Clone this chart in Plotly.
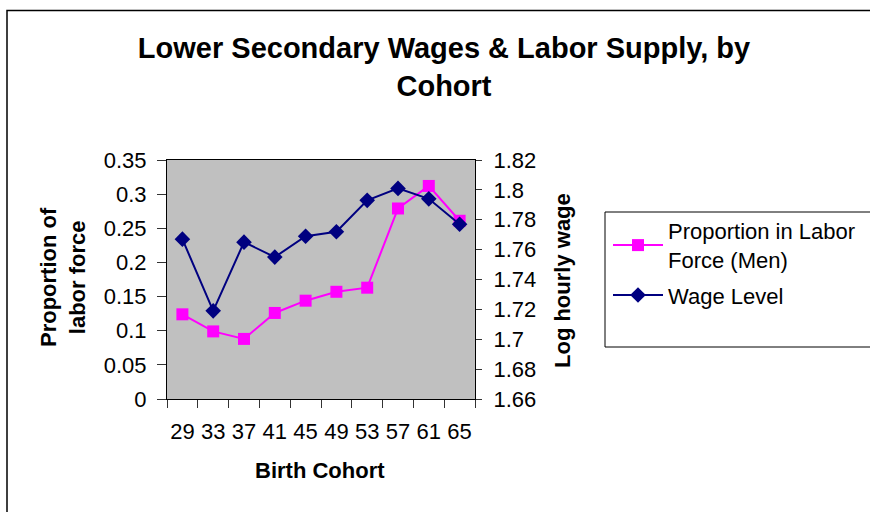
import plotly.graph_objects as go

# ---- data ----
cohorts = ["29", "33", "37", "41", "45", "49", "53", "57", "61", "65"]
labor_share = [0.124, 0.099, 0.088, 0.126, 0.144, 0.157, 0.163, 0.279, 0.312, 0.261]
wage_level = [1.767, 1.719, 1.765, 1.755, 1.769, 1.772, 1.793, 1.801, 1.794, 1.777]

left_ticks = [0, 0.05, 0.1, 0.15, 0.2, 0.25, 0.3, 0.35]
left_labels = ["0", "0.05", "0.1", "0.15", "0.2", "0.25", "0.3", "0.35"]
right_ticks = [1.66, 1.68, 1.70, 1.72, 1.74, 1.76, 1.78, 1.80, 1.82]
right_labels = ["1.66", "1.68", "1.7", "1.72", "1.74", "1.76", "1.78", "1.8", "1.82"]

FONT = "Liberation Sans, Arial, sans-serif"
W, H = 870, 512
L, R, T, B = 167, 395, 160, 113
pw, ph = W - L - R, H - T - B


def px(x):
    return (x - L) / pw


def py(y):
    return (H - B - y) / ph


fig = go.Figure()
fig.add_trace(go.Scatter(
    x=cohorts, y=labor_share, name="Proportion in Labor<br>Force (Men)",
    mode="lines+markers", line=dict(color="#FF00FF", width=2), legendgroup="a",
    marker=dict(symbol="square", size=12, color="#FF00FF", line=dict(width=0)),
    xaxis="x", yaxis="y"))
fig.add_trace(go.Scatter(
    x=cohorts, y=wage_level, name="Wage Level",
    mode="lines+markers", line=dict(color="#000080", width=2), legendgroup="b",
    marker=dict(symbol="diamond", size=12, color="#000080", line=dict(width=0)),
    xaxis="x", yaxis="y2"))

n = len(cohorts)
bounds = [i - 0.5 for i in range(n + 1)]

fig.update_layout(
    width=W, height=H, autosize=False,
    margin=dict(l=L, r=R, t=T, b=B, pad=0, autoexpand=False),
    paper_bgcolor="white", plot_bgcolor="#C0C0C0",
    font=dict(family=FONT, size=22, color="black"),
    showlegend=True,
    title=dict(text="<b>Lower Secondary Wages &amp; Labor Supply, by<br>Cohort</b>",
               font=dict(family=FONT, size=29, color="black"),
               xref="paper", x=px(444), xanchor="center",
               yref="container", y=1 - 58 / H, yanchor="middle"),
    xaxis=dict(type="category", categoryarray=cohorts, range=[-0.5, n - 0.5],
               tickson="boundaries", ticks="outside", ticklen=8, tickwidth=1,
               tickcolor="#333", showline=True, linecolor="black", linewidth=1,
               mirror=True, showgrid=False, zeroline=False, tickangle=0,
               tickfont=dict(size=22), ticklabelstandoff=13, fixedrange=True),
    xaxis2=dict(overlaying="x", anchor="y", range=[-0.5, n - 0.5],
                tickvals=bounds, ticks="inside", ticklen=6, tickcolor="#333",
                showticklabels=False, showgrid=False, zeroline=False,
                showline=False),
    yaxis=dict(range=[0, 0.35], tickvals=left_ticks, ticktext=left_labels,
               ticks="outside", ticklen=9, tickcolor="#333", showline=True,
               linecolor="black", linewidth=1, showgrid=False, zeroline=False,
               tickfont=dict(size=22), ticklabelstandoff=6),
    yaxis2=dict(range=[1.66, 1.82], tickvals=right_ticks, ticktext=right_labels,
                overlaying="y", side="right", anchor="x",
                ticks="outside", ticklen=6, tickcolor="#333", showline=True,
                linecolor="black", linewidth=1, showgrid=False, zeroline=False,
                tickfont=dict(size=22), ticklabelstandoff=7),
    yaxis3=dict(range=[0, 0.35], tickvals=left_ticks, overlaying="y", side="left",
                anchor="x", ticks="inside", ticklen=6, tickcolor="#333",
                showticklabels=False, showgrid=False, zeroline=False, showline=False),
    yaxis4=dict(range=[1.66, 1.82], tickvals=right_ticks, overlaying="y", side="right",
                anchor="x", ticks="inside", ticklen=7, tickcolor="#333",
                showticklabels=False, showgrid=False, zeroline=False, showline=False),
    legend=dict(x=px(608), y=py(210), xanchor="left", yanchor="top",
                bgcolor="rgba(0,0,0,0)", borderwidth=0, traceorder="grouped",
                font=dict(family=FONT, size=22, color="black"),
                itemwidth=50, tracegroupgap=4),
    annotations=[
        dict(text="<b>Proportion of<br>labor force</b>", textangle=-90,
             xref="paper", yref="paper", x=px(63), y=py(277),
             xanchor="center", yanchor="middle", showarrow=False,
             font=dict(family=FONT, size=22)),
        dict(text="<b>Log hourly wage</b>", textangle=-90,
             xref="paper", yref="paper", x=px(562), y=py(281),
             xanchor="center", yanchor="middle", showarrow=False,
             font=dict(family=FONT, size=22)),
        dict(text="<b>Birth Cohort</b>",
             xref="paper", yref="paper", x=px(320), y=py(470),
             xanchor="center", yanchor="middle", showarrow=False,
             font=dict(family=FONT, size=22)),
    ],
    shapes=[
        dict(type="rect", xref="paper", yref="paper",
             x0=px(7), x1=px(W + 20), y0=py(H + 20), y1=py(10.5),
             line=dict(color="black", width=1.5), fillcolor="rgba(0,0,0,0)", layer="above"),
        dict(type="rect", xref="paper", yref="paper",
             x0=px(605), x1=px(W + 20), y0=py(347), y1=py(212),
             line=dict(color="black", width=1), fillcolor="rgba(0,0,0,0)", layer="above"),
    ],
)

fig.write_html("out.html", config={"displayModeBar": False},
               post_script="document.body.style.margin='0';document.body.style.overflow='hidden';")
